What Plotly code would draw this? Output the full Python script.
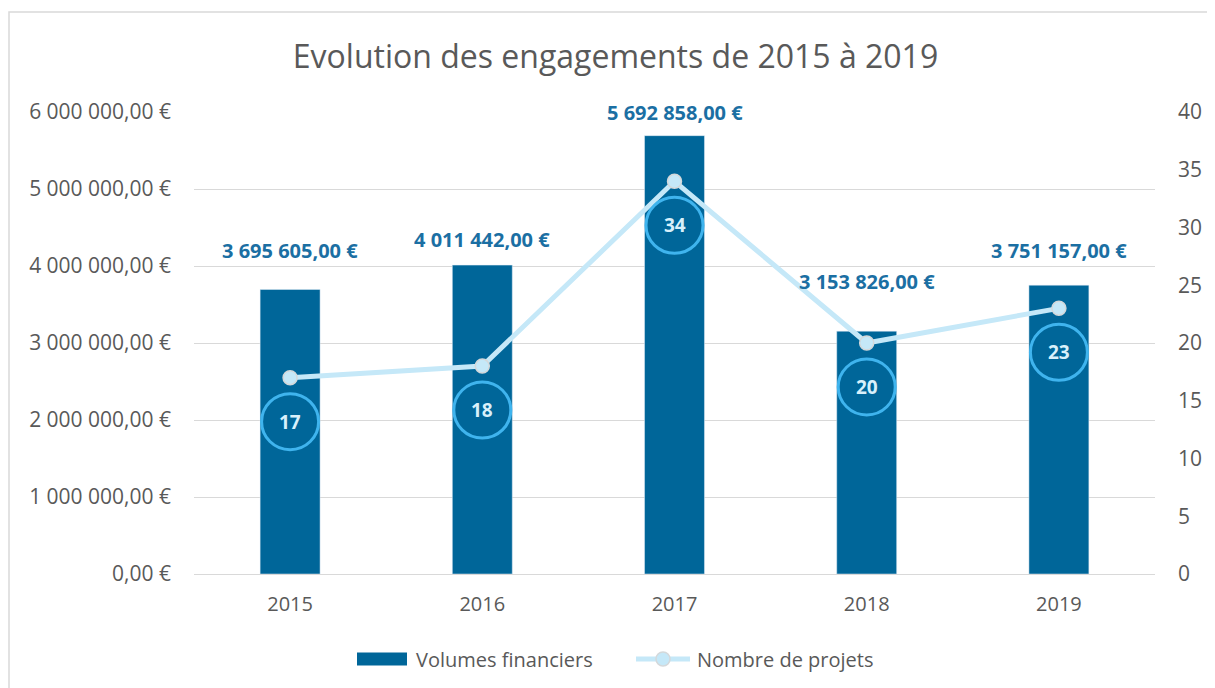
import plotly.graph_objects as go

years = ["2015", "2016", "2017", "2018", "2019"]
volumes = [3695605.00, 4011442.00, 5692858.00, 3153826.00, 3751157.00]
projets = [17, 18, 34, 20, 23]
left_ticks = [0, 1000000, 2000000, 3000000, 4000000, 5000000, 6000000]
right_ticks = [0, 5, 10, 15, 20, 25, 30, 35, 40]

# style: pixel lift of each bar label centre above its bar top (as placed in the original)
label_lift = [39, 26, 23, 50, 35]

FONT = "Open Sans"
GREY = "#595959"
BAR = "#006699"
LINE = "#C5E8F8"
RING = "#3FB4EE"
MEDGE = "#D4D8DA"

# figure geometry (the page body adds an 8px offset)
W, H = 1207, 680
L, R, T, B = 186, 60, 104, 114
PW, PH = W - L - R, H - T - B


def px(fx):
    return (fx - L) / PW


def py(fy):
    return (H - B - fy) / PH


def euro(v):
    s = f"{v:,.2f}".replace(",", " ").replace(".", ",")
    return s + " €"


fig = go.Figure()
fig.add_trace(go.Bar(x=years, y=volumes, name="Volumes financiers",
                     marker_color=BAR, width=0.312, yaxis="y", showlegend=False))
fig.add_trace(go.Scatter(x=years, y=projets, name="Nombre de projets", yaxis="y2",
                         mode="lines+markers", showlegend=False,
                         line=dict(color=LINE, width=5),
                         marker=dict(size=14, color=LINE, line=dict(color=MEDGE, width=1.5))))

annotations = []
shapes = []
for i, (v, lift) in enumerate(zip(volumes, label_lift)):
    annotations.append(dict(x=i, y=v, xref="x", yref="y", text=f"<b>{euro(v)}</b>",
                            showarrow=False, yanchor="middle", yshift=lift,
                            font=dict(family=FONT, size=20, color="#1B6FA3")))
for i, p in enumerate(projets):
    annotations.append(dict(x=i, y=p, xref="x", yref="y2", text=f"<b>{p}</b>",
                            showarrow=False, yanchor="middle", yshift=-44,
                            font=dict(family=FONT, size=19, color="#D8F0FB")))
    shapes.append(dict(type="circle", xref="x", yref="y2", xsizemode="pixel", ysizemode="pixel",
                       xanchor=i, yanchor=p, x0=-28.5, x1=28.5, y0=-72, y1=-16,
                       line=dict(color=RING, width=3), fillcolor="rgba(0,0,0,0)"))

# outer chart frame
shapes.append(dict(type="rect", xref="paper", yref="paper",
                   x0=px(1), x1=px(W + 10), y0=py(H + 10), y1=py(4),
                   line=dict(color="#D9D9D9", width=1.5), layer="below"))

# legend (drawn by hand to get Excel-like swatches)
leg_y = 651
shapes.append(dict(type="rect", xref="paper", yref="paper",
                   x0=px(349), x1=px(399), y0=py(leg_y + 6.5), y1=py(leg_y - 6.5),
                   fillcolor=BAR, line=dict(width=0)))
shapes.append(dict(type="line", xref="paper", yref="paper",
                   x0=px(628), x1=px(682), y0=py(leg_y), y1=py(leg_y),
                   line=dict(color=LINE, width=5)))
shapes.append(dict(type="circle", xref="paper", yref="paper",
                   x0=px(648), x1=px(662), y0=py(leg_y + 7), y1=py(leg_y - 7),
                   fillcolor=LINE, line=dict(color=MEDGE, width=1.5)))
annotations.append(dict(x=px(406), y=py(leg_y), xref="paper", yref="paper", text="Volumes financiers",
                        showarrow=False, xanchor="left", yanchor="middle",
                        font=dict(family=FONT, size=20, color=GREY)))
annotations.append(dict(x=px(687), y=py(leg_y), xref="paper", yref="paper", text="Nombre de projets",
                        showarrow=False, xanchor="left", yanchor="middle",
                        font=dict(family=FONT, size=20, color=GREY)))

fig.update_layout(
    width=W, height=H,
    margin=dict(l=L, r=R, t=T, b=B, autoexpand=False),
    paper_bgcolor="white", plot_bgcolor="white",
    font=dict(family=FONT, size=20, color=GREY),
    showlegend=False,
    title=dict(text="Evolution des engagements de 2015 à 2019", x=607.5 / W, xref="container",
               y=1 - 49 / H, yanchor="middle", xanchor="center",
               font=dict(family=FONT, size=32, color=GREY)),
    xaxis=dict(type="category", range=[-0.5, 4.5], showgrid=False, showline=True,
               linecolor="#D9D9D9", linewidth=1,
               tickfont=dict(size=20, color=GREY), ticks="", ticklabelstandoff=12),
    yaxis=dict(range=[0, 6000000], tickvals=left_ticks, ticktext=[euro(t) for t in left_ticks],
               showgrid=True, gridcolor="#D9D9D9", gridwidth=1, zeroline=False,
               tickfont=dict(size=21, color=GREY), ticklabelstandoff=22),
    yaxis2=dict(range=[0, 40], tickvals=right_ticks, overlaying="y", side="right",
                showgrid=False, zeroline=False, tickfont=dict(size=21, color=GREY),
                ticklabelstandoff=22),
    annotations=annotations, shapes=shapes,
)

fig.write_html("out.html")
